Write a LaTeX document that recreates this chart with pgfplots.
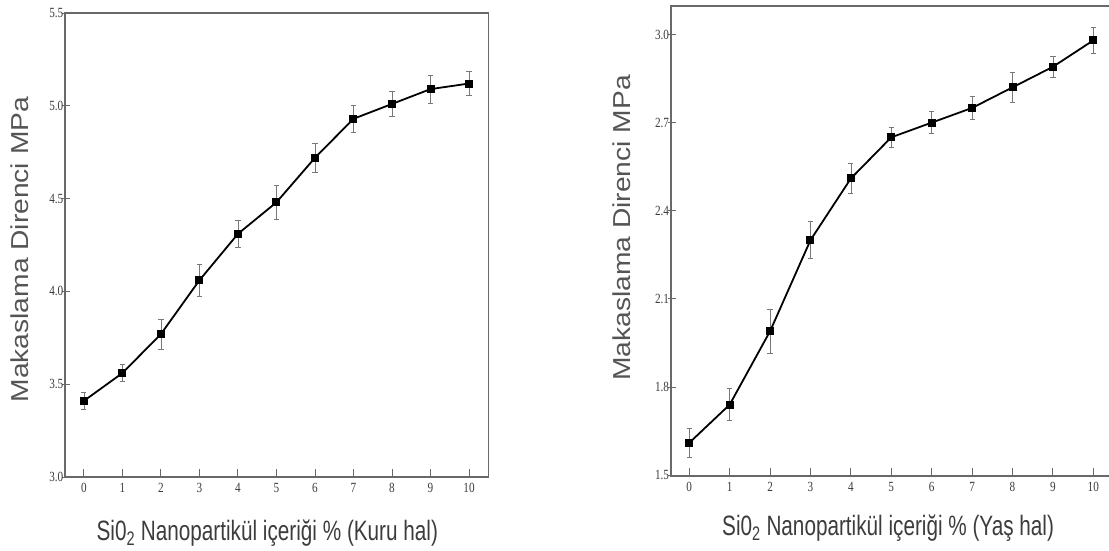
\documentclass[border=0pt]{standalone}
\usepackage{fontspec}
\setmainfont{Liberation Sans}
\newfontfamily\xlabfont[FakeStretch=0.74]{Liberation Sans}
\newfontfamily\ylabfont[FakeStretch=1.15]{Liberation Sans}
\newfontfamily\tickfont[FakeStretch=0.8]{Liberation Serif}
\usepackage{pgfplots}
\pgfplotsset{compat=1.18}
\definecolor{axgray}{RGB}{105,105,105}
\definecolor{labgray}{RGB}{60,60,60}
\definecolor{ylabgray}{RGB}{85,85,85}
\definecolor{errgray}{RGB}{120,120,120}

\pgfplotstableread{
x y e
0 3.41 0.047
1 3.56 0.045
2 3.77 0.080
3 4.06 0.085
4 4.31 0.075
5 4.48 0.090
6 4.72 0.080
7 4.93 0.072
8 5.01 0.068
9 5.09 0.075
10 5.12 0.065
}\kuru

\pgfplotstableread{
x y e
0 1.61 0.050
1 1.74 0.054
2 1.99 0.075
3 2.30 0.063
4 2.51 0.050
5 2.65 0.035
6 2.70 0.038
7 2.75 0.038
8 2.82 0.050
9 2.89 0.035
10 2.98 0.044
}\yas

\pgfplotsset{
  panel/.style={
    scale only axis,
    axis line style={axgray, line width=1.6pt},
    xtick={0,1,...,10},
    tick align=inside,
    major tick length=8pt,
    tick style={axgray, line width=0.9pt},
    ytick style={xshift=-3pt},
    xtick pos=left, ytick pos=left,
    /pgf/number format/assume math mode=true,
    ticklabel style={font=\fontsize{14}{14}\tickfont, text=labgray},
    yticklabel style={inner sep=1.5pt, /pgf/number format/fixed, /pgf/number format/fixed zerofill, /pgf/number format/precision=1},
    xticklabel style={yshift=-3pt},
  },
  series/.style={
    black, line width=1.8pt,
    mark=square*, mark size=3.1pt, mark options={solid, fill=black},
    error bars/.cd, y dir=both, y explicit,
    error bar style={errgray, line width=0.7pt},
    error mark options={rotate=90, mark size=2.6pt, errgray, line width=0.7pt},
  },
}

\begin{document}
\begin{tikzpicture}
\useasboundingbox (0,0) rectangle (1109pt,550pt);
\clip (0,0) rectangle (1109pt,550pt);

\begin{axis}[panel,
  at={(65pt,73pt)}, anchor=south west,
  width=423.3pt, height=464pt,
  xmin=-0.49, xmax=10.5,
  ymin=3.0, ymax=5.5,
  ytick={3.0,3.5,4.0,4.5,5.0,5.5},
  xlabel={Si0\textsubscript{2} Nanopartikül içeriği \% (Kuru hal)},
  ylabel={Makaslama Direnci MPa},
  every axis x label/.style={at={(axis description cs:0.478,0)}, anchor=base, yshift=-63pt,
     font=\fontsize{28}{28}\xlabfont, text=labgray},
  every axis y label/.style={at={(axis description cs:-0.1064,0.49)}, rotate=90, anchor=center,
     font=\fontsize{24.5}{24.5}\ylabfont, text=ylabgray},
]
\addplot+[series] table[x=x, y=y, y error=e] {\kuru};
\end{axis}

\begin{axis}[panel,
  at={(670.7pt,74pt)}, anchor=south west,
  width=442.8pt, height=470pt,
  xmin=-0.46, xmax=10.5,
  ymin=1.497, ymax=3.097,
  ytick={1.5,1.8,2.1,2.4,2.7,3.0},
  xlabel={Si0\textsubscript{2} Nanopartikül içeriği \% (Yaş hal)},
  ylabel={Makaslama Direnci MPa},
  every axis x label/.style={at={(axis description cs:0.491,0)}, anchor=base, yshift=-59pt,
     font=\fontsize{28}{28}\xlabfont, text=labgray},
  every axis y label/.style={at={(axis description cs:-0.110,0.528)}, rotate=90, anchor=center,
     font=\fontsize{24.5}{24.5}\ylabfont, text=ylabgray},
]
\addplot+[series] table[x=x, y=y, y error=e] {\yas};
\end{axis}
\end{tikzpicture}
\end{document}
